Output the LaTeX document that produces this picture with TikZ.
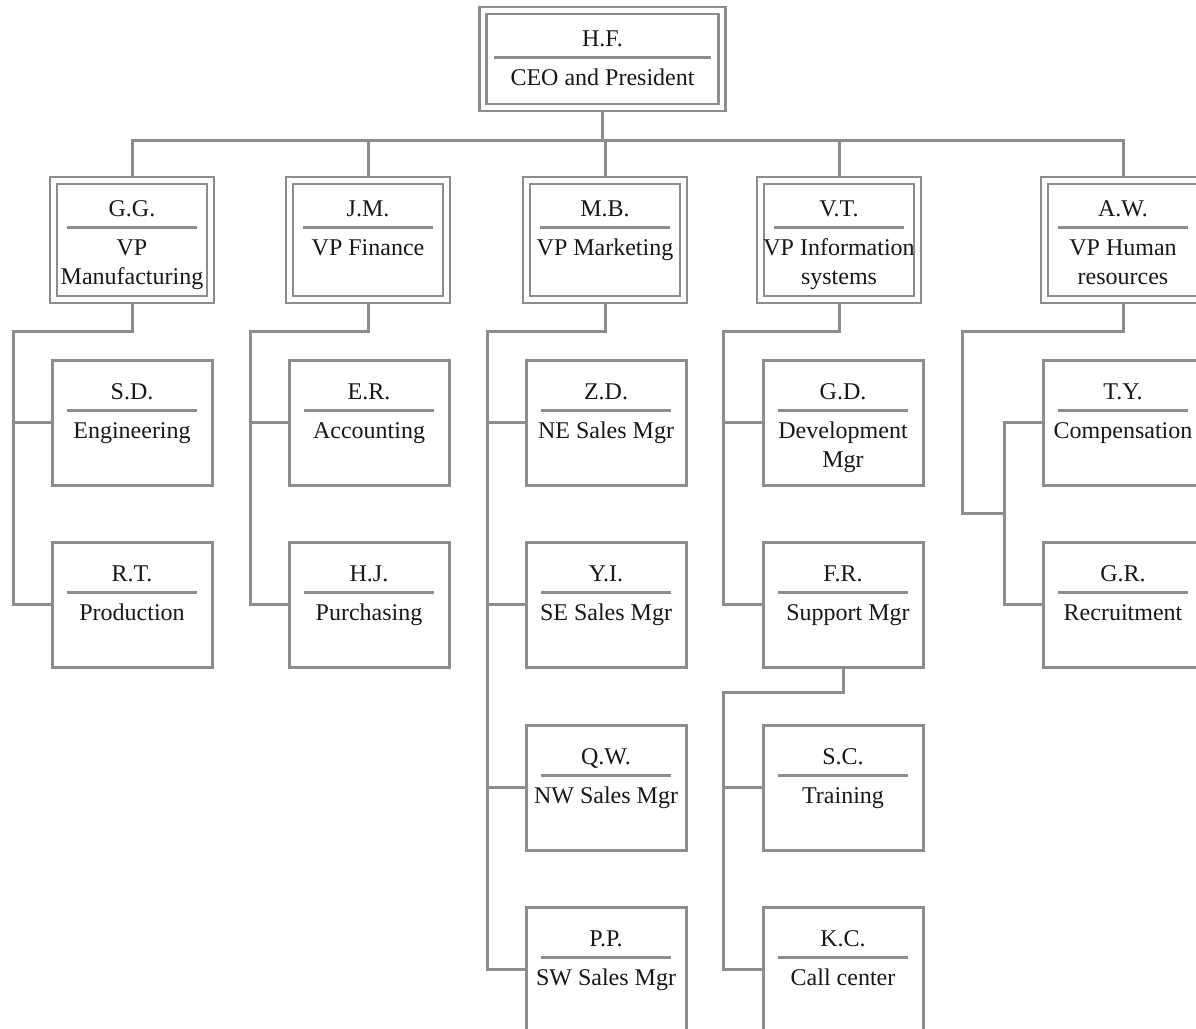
\documentclass[tikz,border=0pt]{standalone}
\usepackage{fontspec}
\setmainfont{Liberation Serif}
\usetikzlibrary{backgrounds}
\definecolor{linegray}{RGB}{140,141,144}
\definecolor{inkc}{RGB}{25,23,24}

\tikzset{
  conn/.style={draw=linegray, line width=3pt},
  rulestyle/.style={draw=linegray, line width=3pt},
  stafbox/.style={rectangle, draw=linegray, line width=3pt, fill=white,
    minimum width=160pt, minimum height=125pt, anchor=north,
    inner sep=0pt, outer sep=0pt},
  vpbox/.style={rectangle, draw=linegray, line width=2.6pt, double=white,
    double distance=4.2pt, fill=white, minimum width=157pt,
    minimum height=119pt, anchor=north, inner sep=0pt, outer sep=0pt,
    yshift=-3.4pt},
  ceobox/.style={vpbox, minimum width=239pt, minimum height=97pt},
  lbl/.style={anchor=base, inner sep=0pt, text=inkc,
    font=\fontsize{24}{29}\selectfont},
}

% #1 node name, #2 box style, #3 centre x, #4 top y,
% #5 initials, #6 first title line, #7 second title line, #8 half rule width
\newcommand\orgunit[8]{%
  \node[#2] (#1) at (#3,#4) {};
  \node[lbl] at (#3,#4+39) {#5};
  \draw[rulestyle] (#3-#8,#4+50) -- (#3+#8,#4+50);
  \node[lbl] at (#3,#4+78) {#6};
  \node[lbl] at (#3,#4+107) {#7};
}

\begin{document}
\begin{tikzpicture}[x=1pt, y=-1pt]
\useasboundingbox (0,0) rectangle (1196,1028);
\clip (0,0) rectangle (1196,1028);

% president
\orgunit{hf}{ceobox}{602.5}{7}{H.F.}{CEO and President}{}{108.5}

% vice presidents
\orgunit{gg}{vpbox}{132}{177}{G.G.}{VP}{Manufacturing}{65}
\orgunit{jm}{vpbox}{368}{177}{J.M.}{VP Finance}{}{65}
\orgunit{mb}{vpbox}{605}{177}{M.B.}{VP Marketing}{}{65}
\orgunit{vt}{vpbox}{839}{177}{V.T.}{VP Information}{systems}{65}
\orgunit{aw}{vpbox}{1123}{177}{A.W.}{VP Human}{resources}{65}

% manufacturing
\orgunit{sd}{stafbox}{132}{360}{S.D.}{Engineering}{}{65}
\orgunit{rt}{stafbox}{132}{542}{R.T.}{Production}{}{65}

% finance
\orgunit{er}{stafbox}{369}{360}{E.R.}{Accounting}{}{65}
\orgunit{hj}{stafbox}{369}{542}{H.J.}{Purchasing}{}{65}

% marketing
\orgunit{zd}{stafbox}{606}{360}{Z.D.}{NE Sales Mgr}{}{65}
\orgunit{yi}{stafbox}{606}{542}{Y.I.}{SE Sales Mgr}{}{65}
\orgunit{qw}{stafbox}{606}{725}{Q.W.}{NW Sales Mgr}{}{65}
\orgunit{pp}{stafbox}{606}{907}{P.P.}{SW Sales Mgr}{}{65}

% information systems
\orgunit{gd}{stafbox}{843}{360}{G.D.}{Development}{Mgr}{65}
\orgunit{fr}{stafbox}{843}{542}{F.R.}{\hspace{10pt}Support Mgr}{}{65}
\orgunit{sc}{stafbox}{843}{725}{S.C.}{Training}{}{65}
\orgunit{kc}{stafbox}{843}{907}{K.C.}{Call center}{}{65}

% human resources
\orgunit{ty}{stafbox}{1123}{360}{T.Y.}{Compensation}{}{65}
\orgunit{gr}{stafbox}{1123}{542}{G.R.}{Recruitment}{}{65}

\begin{scope}[on background layer]
  \fill[white] (0,0) rectangle (1196,1028);

  % top level bus
  \coordinate (bus) at (603,140);
  \draw[conn] (hf.south) -- (hf.south |- bus);
  \draw[conn] (gg.north) |- (bus) -| (aw.north);
  \draw[conn] (jm.north) -- (jm.north |- bus);
  \draw[conn] (mb.north) -- (mb.north |- bus);
  \draw[conn] (vt.north) -- (vt.north |- bus);

  % department branches
  \coordinate (gbar) at (13,331);
  \draw[conn] (gg.south) |- (gbar) |- (rt.west);
  \draw[conn] (sd.west) -- (sd.west -| gbar);

  \coordinate (jbar) at (250,331);
  \draw[conn] (jm.south) |- (jbar) |- (hj.west);
  \draw[conn] (er.west) -- (er.west -| jbar);

  \coordinate (mbar) at (487,331);
  \draw[conn] (mb.south) |- (mbar) |- (pp.west);
  \draw[conn] (zd.west) -- (zd.west -| mbar);
  \draw[conn] (yi.west) -- (yi.west -| mbar);
  \draw[conn] (qw.west) -- (qw.west -| mbar);

  \coordinate (vbar) at (723,331);
  \draw[conn] (vt.south) |- (vbar) |- (fr.west);
  \draw[conn] (gd.west) -- (gd.west -| vbar);

  \coordinate (fbar) at (723,692);
  \draw[conn] (fr.south) |- (fbar) |- (kc.west);
  \draw[conn] (sc.west) -- (sc.west -| fbar);

  \coordinate (abar) at (962,331);
  \coordinate (ajoin) at (1004,513);
  \draw[conn] (aw.south) |- (abar) |- (ajoin);
  \draw[conn] (ty.west) -| (ajoin);
  \draw[conn] (gr.west) -| (ajoin);
\end{scope}
\end{tikzpicture}
\end{document}
